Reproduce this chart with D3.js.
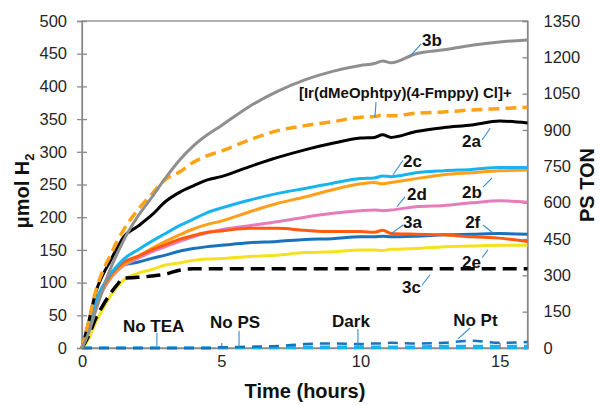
<!DOCTYPE html>
<html>
<head>
<meta charset="utf-8">
<script src="https://cdn.jsdelivr.net/npm/d3@7"></script>
<style>
  body { margin: 0; background: #fff; }
  svg { font-family: "Liberation Sans", Arial, sans-serif; }
</style>
</head>
<body>
<svg id="chart" width="603" height="405"></svg>
<script>
// time points (hours)
const hours = [0, 0.25, 0.5, 0.75, 1, 1.25, 1.5, 2, 2.5, 3, 3.5, 4, 4.5, 5, 6, 7, 8, 9, 10, 10.5, 10.8, 11.1, 12, 13, 14, 15, 16];

// umol H2
const s3b  = [0, 25, 58, 90, 119, 143, 165, 201, 230, 260, 287, 309, 326, 340, 369, 392, 410, 423, 432, 435, 439, 436, 450, 456, 463, 468, 471];
const sIr  = [0, 42, 88, 118, 140, 162, 181, 211, 235, 258, 269, 284, 294, 301, 318, 332, 340, 346, 353, 354, 356, 355, 359, 361, 364, 366, 368];
const s2a  = [0, 42, 86, 112, 132, 152, 170, 186, 203, 224, 238, 248, 257, 262, 277, 291, 303, 313, 321, 322, 326, 322, 331, 337, 341, 347, 344];
const s2c  = [0, 32, 72, 95, 112, 125, 136, 150, 163, 175, 187, 197, 207, 214, 226, 236, 244, 252, 259, 260, 263, 262, 268, 271, 273, 276, 276];
const s2b  = [0, 30, 66, 90, 107, 119, 128, 140, 152, 163, 173, 182, 189, 194, 208, 221, 231, 242, 251, 253, 251, 253, 259, 265, 268, 271, 272];
const s2d  = [0, 30, 64, 88, 105, 117, 126, 137, 147, 155, 163, 170, 176, 181, 187, 193, 200, 206, 210, 211, 210, 211, 216, 218, 222, 225, 223];
const s3a  = [0, 31, 67, 92, 110, 122, 131, 140, 150, 158, 166, 172, 177, 179, 183, 183, 180, 178, 178, 177, 180, 175, 174, 173, 170, 168, 163];
const s2f  = [0, 30, 66, 92, 110, 121, 127, 131, 137, 142, 148, 152, 155, 157, 161, 163, 166, 167, 170, 170, 171, 170, 171, 173, 174, 175, 174];
const s2e  = [0, 15, 40, 60, 78, 93, 104, 114, 120, 127, 130, 134, 136, 137, 140, 142, 146, 147, 150, 150, 149, 151, 152, 155, 156, 157, 157];
const s3c  = [0, 20, 46, 65, 82, 96, 107, 108, 110, 113, 119, 121, 121, 121, 121, 121, 121, 121, 121, 121, 121, 121, 121, 121, 121, 121, 121];
const sNoTEA = [0, 0, 0, 0, 0, 0, 0, 0, 0, 0, 0, 0, 0, 0, 0, 0, 0, 0, 0, 0, 0, 0, 0, 0, 0, 0, 0];
const sNoPS  = [0, 0, 0, 0, 0, 0, 0, 0, 0, 0, 0, 0, 0, 1, 1, 1, 1, 1, 1, 1, 1, 1, 1, 1, 1, 1, 1];
const sDark  = [0, 0, 0, 0, 0, 0, 0, 0, 0, 0, 0, 0, 0, 0, 1, 1, 2, 2, 2, 2, 2, 2, 2, 3, 3, 3, 3];
const sNoPt  = [0, 0, 0, 0, 0, 0, 0, 0, 0, 0, 0, 0, 0, 1, 2, 3, 6, 7, 6, 7, 7, 8, 7, 8, 11, 8, 9];

const xTicks = [0, 5, 10, 15];
const yTicks = [0, 50, 100, 150, 200, 250, 300, 350, 400, 450, 500];
const y2Ticks = [0, 150, 300, 450, 600, 750, 900, 1050, 1200, 1350];

// drawing order: back to front
const series = [
  { name: "No TEA", values: sNoTEA, color: "#19b2ee", width: 2.5, dash: "10,7" },
  { name: "No PS",  values: sNoPS,  color: "#19b2ee", width: 2.5, dash: "10,7" },
  { name: "Dark",   values: sDark,  color: "#19b2ee", width: 2.5, dash: "10,7" },
  { name: "No Pt",  values: sNoPt,  color: "#1a72bd", width: 2.5, dash: "10,7" },
  { name: "2e", values: s2e, color: "#f5e21e", width: 3 },
  { name: "2f", values: s2f, color: "#1a72bd", width: 3 },
  { name: "2d", values: s2d, color: "#e87cbb", width: 3 },
  { name: "2b", values: s2b, color: "#ff9f1a", width: 3 },
  { name: "3a", values: s3a, color: "#ff5a0e", width: 3 },
  { name: "2c", values: s2c, color: "#19b4ef", width: 3 },
  { name: "3c", values: s3c, color: "#000000", width: 3.5, dash: "14,7" },
  { name: "2a", values: s2a, color: "#000000", width: 3 },
  { name: "Ir", values: sIr, color: "#ffa315", width: 3.5, dash: "11,6" },
  { name: "3b", values: s3b, color: "#8f8f8f", width: 3 }
];

// labels: text anchor (t, v) and leader line from (t1, v1) to (t2, v2), in data units
const notes = [
  { text: "3b", t: 12.21, v: 462, l: [11.78, 446, 12.18, 465] },
  { text: "[Ir(dMeOphtpy)(4-Fmppy) Cl]+", t: 7.79, v: 382, size: 15, l: [10.52, 353, 10.56, 376] },
  { text: "2a", t: 13.65, v: 307, l: [14.37, 318, 14.66, 336] },
  { text: "2c", t: 11.53, v: 277, l: [11.17, 265, 11.53, 287] },
  { text: "2b", t: 13.65, v: 229, l: [14.40, 246, 14.73, 260] },
  { text: "2d", t: 11.67, v: 226, l: [11.31, 216, 11.60, 231] },
  { text: "3a", t: 11.53, v: 183, l: [11.14, 176, 11.53, 188] },
  { text: "2f", t: 13.76, v: 183, l: [14.40, 188, 14.73, 177] },
  { text: "2e", t: 13.65, v: 122, l: [14.37, 138, 14.58, 150] },
  { text: "3c", t: 11.49, v: 84, l: [12.21, 96, 12.50, 112] },
  { text: "No TEA", t: 1.47, v: 24.5, l: [2.69, 23, 2.69, 0] },
  { text: "No PS", t: 4.60, v: 30.6, l: [5.64, 26, 5.64, 1] },
  { text: "Dark", t: 8.98, v: 32, l: [9.91, 29, 9.91, 1] },
  { text: "No Pt", t: 13.33, v: 33.6, l: [13.5, 14, 13.94, 30.6] }
];

const svg = d3.select("#chart");
const plotL = 82, plotR = 527.5, plotT = 21, plotB = 348;

const x = d3.scaleLinear().domain([0, 16]).range([plotL, plotR]);
const y = d3.scaleLinear().domain([0, 500]).range([plotB, plotT]);
const y2 = d3.scaleLinear().domain([0, 1350]).range([plotB, plotT]);

const axisColor = "#8a8a8a";

// plot frame
svg.append("rect")
  .attr("x", plotL).attr("y", plotT)
  .attr("width", plotR - plotL).attr("height", plotB - plotT)
  .attr("fill", "none").attr("stroke", axisColor).attr("stroke-width", 1.3);

const gx = svg.append("g").attr("transform", `translate(0,${plotB})`)
  .call(d3.axisBottom(x).tickValues(xTicks).tickSize(-5).tickPadding(7));
const gy = svg.append("g").attr("transform", `translate(${plotL},0)`)
  .call(d3.axisLeft(y).tickValues(yTicks).tickSize(5).tickPadding(10));
gy.selectAll(".tick line").attr("x1", 5);
const gy2 = svg.append("g").attr("transform", `translate(${plotR},0)`)
  .call(d3.axisRight(y2).tickValues(y2Ticks).tickFormat(d3.format("d")).tickSize(-5).tickPadding(16));

[gx, gy, gy2].forEach(g => {
  g.select(".domain").attr("stroke", axisColor).attr("stroke-width", 1.3);
  g.selectAll(".tick line").attr("stroke", axisColor).attr("stroke-width", 1.3);
  g.selectAll(".tick text")
    .attr("font-family", "'Liberation Sans', Arial, sans-serif")
    .attr("font-size", 16.5).attr("fill", "#262626");
});

// data lines
const line = d3.line().x((d, i) => x(hours[i])).y(d => y(d)).curve(d3.curveMonotoneX);

svg.append("g").selectAll("path")
  .data(series)
  .join("path")
  .attr("d", d => line(d.values))
  .attr("fill", "none")
  .attr("stroke", d => d.color)
  .attr("stroke-width", d => d.width)
  .attr("stroke-dasharray", d => d.dash || null)
  .attr("stroke-linejoin", "round");

// annotation leaders and labels
const gn = svg.append("g");
gn.selectAll("line")
  .data(notes)
  .join("line")
  .attr("x1", d => x(d.l[0])).attr("y1", d => y(d.l[1]))
  .attr("x2", d => x(d.l[2])).attr("y2", d => y(d.l[3]))
  .attr("stroke", "#3a8bd0").attr("stroke-width", 1.1);

gn.selectAll("text")
  .data(notes)
  .join("text")
  .attr("x", d => x(d.t)).attr("y", d => y(d.v))
  .attr("font-size", d => d.size || 17)
  .attr("font-weight", "bold")
  .attr("fill", "#111")
  .text(d => d.text);

// axis titles
const yt = svg.append("text")
  .attr("transform", "translate(29,191) rotate(-90)")
  .attr("text-anchor", "middle")
  .attr("font-size", 20).attr("font-weight", "bold").attr("fill", "#111");
yt.append("tspan").text("μmol H");
yt.append("tspan").attr("font-size", 13).attr("dy", 5).text("2");

svg.append("text")
  .attr("transform", "translate(594,185) rotate(-90)")
  .attr("text-anchor", "middle")
  .attr("font-size", 20).attr("font-weight", "bold").attr("fill", "#111")
  .text("PS TON");

svg.append("text")
  .attr("x", 305).attr("y", 398)
  .attr("text-anchor", "middle")
  .attr("font-size", 20).attr("font-weight", "bold").attr("fill", "#111")
  .text("Time (hours)");
</script>
</body>
</html>
